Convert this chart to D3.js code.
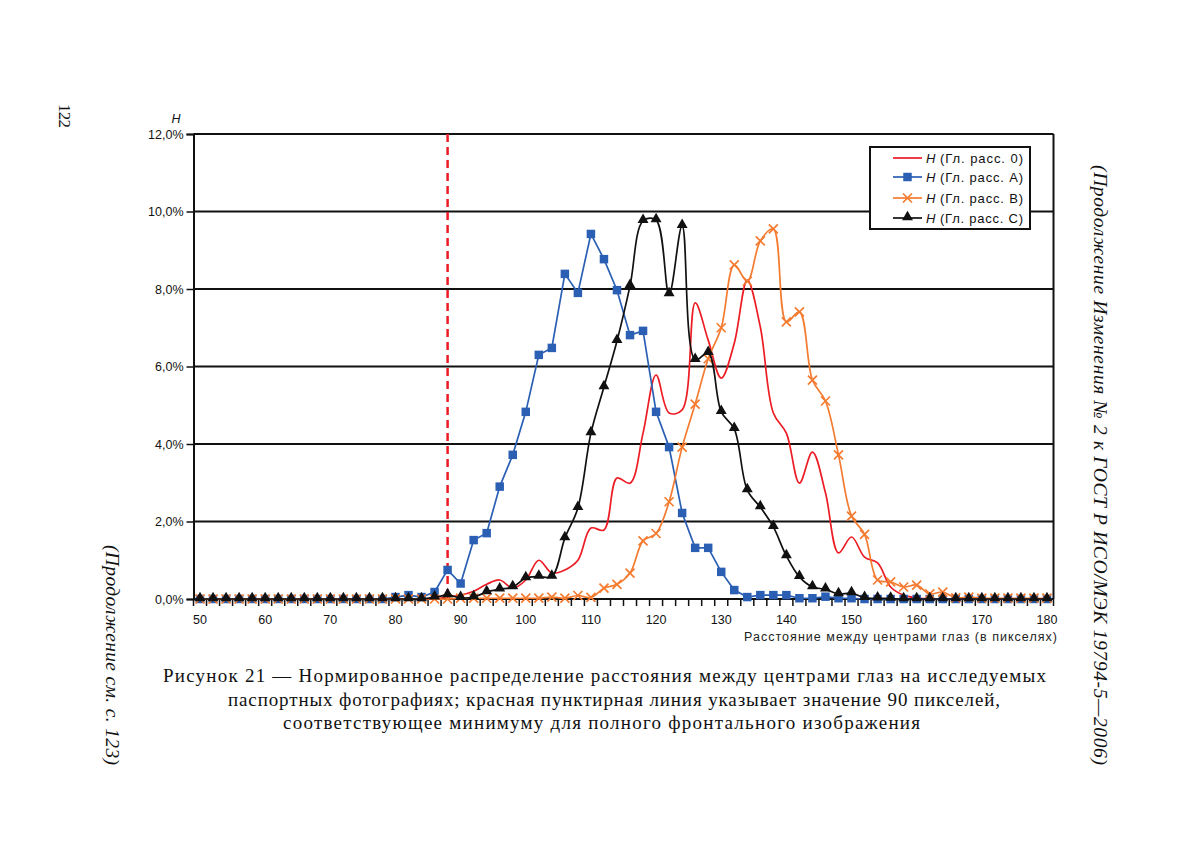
<!DOCTYPE html>
<html><head><meta charset="utf-8">
<script src="https://cdn.jsdelivr.net/npm/d3@7"></script>
<style>
html,body{margin:0;padding:0;background:#fff;}
svg{display:block;}
</style></head>
<body>
<svg id="chart" width="1181" height="857"></svg>
<script>
// ---- data ----
const categories = d3.range(50, 181, 2); // 50..180 step 2 (66 categories)
const xTickLabels = [50,60,70,80,90,100,110,120,130,140,150,160,170,180];
const yTickValues = [0,0.02,0.04,0.06,0.08,0.10,0.12];
const yTickLabels = ["0,0%","2,0%","4,0%","6,0%","8,0%","10,0%","12,0%"];
const seriesNames = ["Гл. расс. 0","Гл. расс. A","Гл. расс. B","Гл. расс. C"];
const markerLine = 88;

// values in percent, one per category (50,52,...,180)
const series0 = [0,0,0,0,0,0,0,0,0,0, 0,0,0,0,0,0,0,0,0,0.05,
  0.1,0.2,0.38,0.49,0.28,0.49,1.0,0.67,0.75,1.0,
  1.83,1.78,3.12,2.99,4.28,5.78,4.8,4.88,7.64,6.68,
  5.7,6.6,8.23,7.02,4.8,4.28,2.99,3.79,2.74,1.19,
  1.6,1.08,0.93,0.31,0.1,0.03,0,0,0,0,
  0,0,0,0,0,0];
const seriesA = [0,0,0,0,0,0,0,0,0,0, 0,0,0,0,0,0.05,0.1,0.05,0.18,0.75,
  0.4,1.52,1.7,2.9,3.72,4.83,6.3,6.48,8.39,7.9,
  9.42,8.77,7.97,6.81,6.92,4.83,3.92,2.22,1.32,1.32,
  0.7,0.23,0.05,0.1,0.1,0.1,0.02,0.02,0.06,0.02,
  0.02,0,0,0,0,0,0,0,0,0, 0,0,0,0,0,0];
const seriesB = [0,0,0,0,0,0,0,0,0,0, 0,0,0,0,0,0,0,0,0,0,
  0.02,0.02,0.02,0.02,0.02,0.02,0.02,0.05,0.02,0.09,
  0.04,0.28,0.38,0.67,1.5,1.69,2.51,3.92,5.03,6.2,
  7.0,8.62,8.2,9.24,9.55,7.15,7.41,5.65,5.11,3.72,
  2.14,1.67,0.49,0.44,0.31,0.36,0.13,0.18,0.03,0.05,
  0.02,0.02,0.02,0.02,0.02,0.02];
const seriesC = [0,0,0,0,0,0,0,0,0,0, 0,0,0,0,0,0,0,0,0.04,0.1,
  0.03,0.05,0.18,0.25,0.31,0.54,0.58,0.58,1.57,2.35,
  4.28,5.47,6.66,8.08,9.76,9.78,7.87,9.63,6.17,6.35,
  4.83,4.39,2.81,2.37,1.86,1.11,0.57,0.31,0.25,0.13,
  0.15,0.03,0.02,0.01,0,0,0,0,0,0, 0,0,0,0,0,0];

// ---- layout ----
const svg = d3.select("#chart");
const L = 193.5, R = 1053.5, T = 134, B = 599;
const x = d3.scaleLinear().domain([49, 181]).range([L, R]);
const y = d3.scaleLinear().domain([0, 0.12]).range([B, T]);
const SANS = "Liberation Sans, Arial, sans-serif";
const SERIF = "Liberation Serif, Times New Roman, serif";

const cRed = "#ec1c24", cBlue = "#2b5fb4", cOrange = "#f47b30", cBlack = "#111";

// gridlines
svg.append("g").selectAll("line").data(yTickValues.slice(1)).join("line")
  .attr("x1", L).attr("x2", R).attr("y1", d => y(d)).attr("y2", d => y(d))
  .attr("stroke", "#111").attr("stroke-width", 2);
// right border
svg.append("line").attr("x1", R).attr("x2", R).attr("y1", T).attr("y2", B)
  .attr("stroke", "#111").attr("stroke-width", 2);

// y axis
const yAxis = d3.axisLeft(y).tickValues(yTickValues)
  .tickFormat((d, i) => yTickLabels[i]).tickSize(7).tickPadding(3);
const gy = svg.append("g").attr("transform", `translate(${L},0)`).call(yAxis);
gy.select(".domain").attr("stroke", "#111").attr("stroke-width", 2);
gy.selectAll(".tick line").attr("stroke", "#111").attr("stroke-width", 1.5);
gy.selectAll("text").attr("font-family", SANS).attr("font-size", 12.5).attr("fill", "#111");

// x axis: ticks on bin edges, labels at categories
const edges = d3.range(49, 182, 2);
const gx = svg.append("g").attr("transform", `translate(0,${B})`);
gx.append("line").attr("x1", L).attr("x2", R).attr("stroke", "#111").attr("stroke-width", 2);
gx.selectAll("line.t").data(edges).join("line").attr("class", "t")
  .attr("x1", d => x(d)).attr("x2", d => x(d)).attr("y1", 0).attr("y2", 7)
  .attr("stroke", "#111").attr("stroke-width", 1.5);
gx.selectAll("text").data(xTickLabels).join("text")
  .attr("x", d => x(d)).attr("y", 25).attr("text-anchor", "middle")
  .attr("font-family", SANS).attr("font-size", 12.5)
  .attr("fill", "#111").text(d => d);

// axis titles
svg.append("text").attr("x", 744).attr("y", 641)
  .attr("textLength", 313).attr("lengthAdjust", "spacing")
  .attr("font-family", SANS).attr("font-size", 12.5)
  .attr("fill", "#222").text("Расстояние между центрами глаз (в пикселях)");
svg.append("text").attr("x", 176).attr("y", 123).attr("text-anchor", "middle")
  .attr("font-family", SANS).attr("font-size", 12.5)
  .attr("font-style", "italic").attr("fill", "#111").text("H");

// red dashed reference line
svg.append("line").attr("x1", x(markerLine)).attr("x2", x(markerLine))
  .attr("y1", T).attr("y2", B).attr("stroke", cRed).attr("stroke-width", 2.5)
  .attr("stroke-dasharray", "8,5");

const toPts = arr => categories.map((c, i) => [c, arr[i] / 100]);
const smooth = d3.line().x(d => x(d[0])).y(d => y(d[1])).curve(d3.curveCatmullRom.alpha(0.5));
const straight = d3.line().x(d => x(d[0])).y(d => y(d[1]));

function crossPath(s) { return `M${-s},${-s}L${s},${s}M${-s},${s}L${s},${-s}`; }
const sq = d3.symbol().type(d3.symbolSquare).size(72)();
const tri = d3.symbol().type(d3.symbolTriangle).size(52)();

// series 0 (red smooth)
svg.append("path").attr("d", smooth(toPts(series0))).attr("fill", "none")
  .attr("stroke", cRed).attr("stroke-width", 1.7);
// series A (blue)
svg.append("path").attr("d", straight(toPts(seriesA))).attr("fill", "none")
  .attr("stroke", cBlue).attr("stroke-width", 1.7);
svg.append("g").selectAll("path").data(toPts(seriesA)).join("path")
  .attr("transform", d => `translate(${x(d[0])},${y(d[1])})`).attr("d", sq).attr("fill", cBlue);
// series B (orange)
svg.append("path").attr("d", smooth(toPts(seriesB))).attr("fill", "none")
  .attr("stroke", cOrange).attr("stroke-width", 1.7);
svg.append("g").selectAll("path").data(toPts(seriesB)).join("path")
  .attr("transform", d => `translate(${x(d[0])},${y(d[1])})`).attr("d", crossPath(4.5))
  .attr("stroke", cOrange).attr("stroke-width", 1.7).attr("fill", "none");
// series C (black)
svg.append("path").attr("d", smooth(toPts(seriesC))).attr("fill", "none")
  .attr("stroke", cBlack).attr("stroke-width", 1.7);
svg.append("g").selectAll("path").data(toPts(seriesC)).join("path")
  .attr("transform", d => `translate(${x(d[0])},${y(d[1]) - 1})`).attr("d", tri).attr("fill", cBlack);

// legend
const lg = svg.append("g");
lg.append("rect").attr("x", 870).attr("y", 147).attr("width", 160).attr("height", 82)
  .attr("fill", "#fff").attr("stroke", "#111").attr("stroke-width", 2);
const legRows = [158, 177, 198, 218];
const legColors = [cRed, cBlue, cOrange, cBlack];
seriesNames.forEach((name, i) => {
  const yy = legRows[i];
  lg.append("line").attr("x1", 893).attr("x2", 922).attr("y1", yy).attr("y2", yy)
    .attr("stroke", legColors[i]).attr("stroke-width", 1.7);
  if (i === 1) lg.append("path").attr("transform", `translate(907.5,${yy})`).attr("d", sq).attr("fill", cBlue);
  if (i === 2) lg.append("path").attr("transform", `translate(907.5,${yy})`).attr("d", crossPath(4.5))
    .attr("stroke", cOrange).attr("stroke-width", 1.7);
  if (i === 3) lg.append("path").attr("transform", `translate(907.5,${yy - 1})`).attr("d", tri).attr("fill", cBlack);
  lg.append("text").attr("x", 926).attr("y", yy + 4.5)
    .attr("font-family", SANS).attr("font-size", 13).attr("font-style", "italic")
    .attr("fill", "#111").text("H");
  lg.append("text").attr("x", 940).attr("y", yy + 4.5)
    .attr("textLength", 83).attr("lengthAdjust", "spacing")
    .attr("font-family", SANS).attr("font-size", 13).attr("fill", "#111").text("(" + name + ")");
});

// caption
const cap = ["Рисунок 21 — Нормированное распределение расстояния между центрами глаз на исследуемых",
  "паспортных фотографиях; красная пунктирная линия указывает значение 90 пикселей,",
  "соответствующее минимуму для полного фронтального изображения"];
const capStart = [163, 228, 283];
const capLen = [883, 772, 637];
svg.append("g").selectAll("text").data(cap).join("text")
  .attr("x", (d, i) => capStart[i]).attr("y", (d, i) => 682 + i * 23.5)
  .attr("textLength", (d, i) => capLen[i]).attr("lengthAdjust", "spacing")
  .attr("font-family", SERIF).attr("font-size", 19)
  .attr("fill", "#111").text(d => d);

// page margins texts
svg.append("text").attr("transform", "translate(59,104) rotate(90)")
  .attr("textLength", 24).attr("lengthAdjust", "spacing")
  .attr("font-family", SERIF).attr("font-size", 17).attr("fill", "#111").text("122");
svg.append("text").attr("transform", "translate(1094,165) rotate(90)")
  .attr("textLength", 600).attr("lengthAdjust", "spacing")
  .attr("font-family", SERIF).attr("font-size", 19.5).attr("font-style", "italic")
  .attr("fill", "#111").text("(Продолжение Изменения № 2 к ГОСТ Р ИСО/МЭК 19794-5—2006)");
svg.append("text").attr("transform", "translate(106,545) rotate(90)")
  .attr("textLength", 220).attr("lengthAdjust", "spacing")
  .attr("font-family", SERIF).attr("font-size", 19.5).attr("font-style", "italic")
  .attr("fill", "#111").text("(Продолжение см. с. 123)");
</script>
</body></html>
